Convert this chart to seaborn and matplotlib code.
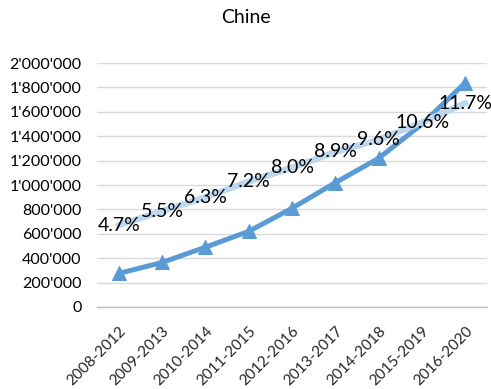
import matplotlib
matplotlib.use("Agg")
import matplotlib.pyplot as plt
import numpy as np
import pandas as pd
import seaborn as sns
from matplotlib.ticker import FuncFormatter, FixedLocator

periods = ["2008-2012", "2009-2013", "2010-2014", "2011-2015", "2012-2016",
           "2013-2017", "2014-2018", "2015-2019", "2016-2020"]
values = [275000, 365000, 490000, 620000, 810000, 1020000, 1220000, 1500000, 1840000]
shares = [4.7, 5.5, 6.3, 7.2, 8.0, 8.9, 9.6, 10.6, 11.7]

df = pd.DataFrame({"period": periods, "value": values, "share": shares})

sns.set_theme(style="white")
plt.rcParams["font.family"] = ["Lato", "DejaVu Sans"]

fig = plt.figure(figsize=(4.91, 3.89), dpi=100)
ax = fig.add_axes([0.1976, 0.2108, 0.7944, 0.627])

dark = "#5B9BD5"
light = "#BDD7EE"

# marker at 2015-2019 is hidden under the share line/label in the original
shown = [i for i in range(len(periods)) if i != 7]
sns.lineplot(data=df, x="period", y="value", ax=ax, color=dark, linewidth=3.6,
             marker="^", markersize=10, markeredgecolor=dark, markevery=shown, sort=False)
ax.set_xlim(-0.5, len(periods) - 0.5)
ax.set_ylim(0, 2000000)
ax.yaxis.set_major_locator(FixedLocator(np.arange(0, 2000001, 200000)))
ax.yaxis.set_major_formatter(FuncFormatter(lambda v, p: f"{int(v):,}".replace(",", "'")))
ax.grid(axis="y", color="#D9D9D9", linewidth=1)
ax.set_axisbelow(True)
for s in ["top", "right", "left"]:
    ax.spines[s].set_visible(False)
ax.spines["bottom"].set_color("#BFBFBF")
ax.spines["bottom"].set_linewidth(1)
ax.set_xlabel("")
ax.set_ylabel("")
ax.tick_params(axis="y", length=0, labelsize=11.5, colors="#000000", pad=11)
ax.tick_params(axis="x", which="major", length=0, labelsize=11, pad=12)
ax.xaxis.set_minor_locator(FixedLocator(np.arange(-0.5, len(periods), 1.0)))
ax.tick_params(axis="x", which="minor", length=5, color="#BFBFBF", width=1)
for lab in ax.get_xticklabels():
    lab.set_rotation(45)
    lab.set_ha("right")
    lab.set_rotation_mode("anchor")

ax2 = ax.twinx()
sns.lineplot(data=df, x="period", y="share", ax=ax2, color=light, linewidth=4.5, sort=False)
ax2.set_ylim(0, 14)
ax2.set_axis_off()
for i, s in enumerate(shares):
    ax2.text(i, s, f"{s:.1f}%", ha="center", va="center", fontsize=14, color="#000000")

fig.text(0.5, 0.955, "Chine", ha="center", va="center", fontsize=14, color="#000000")

fig.savefig("out.png", dpi=100)
